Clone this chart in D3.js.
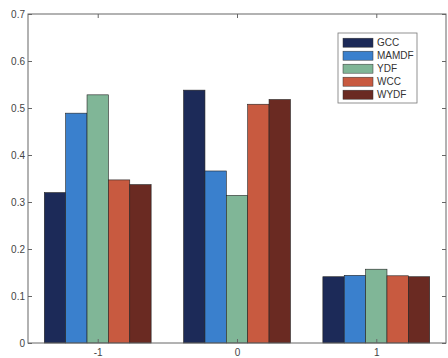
<!DOCTYPE html>
<html>
<head>
<meta charset="utf-8">
<script src="https://cdn.jsdelivr.net/npm/d3@7"></script>
<style>
  html, body { margin: 0; padding: 0; background: #fff; }
  svg { display: block; font-family: "Liberation Sans", Arial, sans-serif; }
</style>
</head>
<body>
<svg id="chart" width="448" height="358"></svg>
<script>
// Categories on the x axis
const categories = ["-1", "0", "1"];
// Methods (series) and their bar colours
const methods = ["GCC", "MAMDF", "YDF", "WCC", "WYDF"];
const colors = ["#1c2a58", "#3a80cd", "#80b697", "#c85a40", "#6a2a22"];
// Series values, one per category
const GCC   = [0.320, 0.538, 0.141];
const MAMDF = [0.489, 0.366, 0.144];
const YDF   = [0.528, 0.314, 0.157];
const WCC   = [0.347, 0.508, 0.143];
const WYDF  = [0.337, 0.518, 0.141];
const yTicks = [0, 0.1, 0.2, 0.3, 0.4, 0.5, 0.6, 0.7];

const seriesValues = [GCC, MAMDF, YDF, WCC, WYDF];

const svg = d3.select("#chart");
const plot = { left: 28, right: 446, top: 14, bottom: 343 };

const x = d3.scaleBand().domain(categories).range([plot.left, plot.right]).paddingInner(0.233).paddingOuter(0.117);
const xs = d3.scaleBand().domain(methods).range([0, x.bandwidth()]);
const y = d3.scaleLinear().domain([0, 0.7]).range([plot.bottom, plot.top]);

// Bars
const rows = categories.map((c, i) => ({ c, vals: methods.map((m, j) => ({ m, j, v: seriesValues[j][i] })) }));
const g = svg.append("g");
g.selectAll("g.grp").data(rows).join("g")
  .attr("class", "grp")
  .attr("transform", d => `translate(${x(d.c)},0)`)
  .selectAll("rect").data(d => d.vals).join("rect")
  .attr("x", d => xs(d.m))
  .attr("width", xs.bandwidth())
  .attr("y", d => y(d.v))
  .attr("height", d => y(0) - y(d.v))
  .attr("fill", d => colors[d.j])
  .attr("stroke", "#222")
  .attr("stroke-width", 0.6);

// Axes: box with inward ticks on all sides
const axisColor = "#666";
const tickPos = d3.scalePoint().domain(categories).range([x("-1") + x.bandwidth() / 2, x("1") + x.bandwidth() / 2]);

const yAxis = svg.append("g").attr("transform", `translate(${plot.left},0)`)
  .call(d3.axisLeft(y).tickValues(yTicks).tickSize(-4).tickPadding(3).tickFormat(d => d === 0 ? "0" : d3.format(".1f")(d)));
const yAxisR = svg.append("g").attr("transform", `translate(${plot.right},0)`)
  .call(d3.axisRight(y).tickValues(yTicks).tickSize(-4).tickFormat(""));
const xAxis = svg.append("g").attr("transform", `translate(0,${plot.bottom})`)
  .call(d3.axisBottom(tickPos).tickSize(-4).tickPadding(6));
const xAxisT = svg.append("g").attr("transform", `translate(0,${plot.top})`)
  .call(d3.axisTop(tickPos).tickSize(-4).tickFormat(""));

[yAxis, yAxisR, xAxis, xAxisT].forEach(a => {
  a.select(".domain").remove();
  a.selectAll(".tick line").attr("stroke", axisColor);
  a.selectAll("text").attr("font-size", 10).attr("fill", "#444")
    .attr("font-family", "Liberation Sans, Arial, sans-serif");
});
svg.append("rect")
  .attr("x", plot.left).attr("y", plot.top)
  .attr("width", plot.right - plot.left).attr("height", plot.bottom - plot.top)
  .attr("fill", "none").attr("stroke", axisColor).attr("stroke-width", 1);

// Legend
const lg = svg.append("g").attr("transform", "translate(338,33)");
lg.append("rect").attr("width", 79).attr("height", 70)
  .attr("fill", "#fff").attr("stroke", "#777").attr("stroke-width", 0.8);
const items = lg.selectAll("g.item").data(methods).join("g")
  .attr("class", "item")
  .attr("transform", (d, i) => `translate(5,${9.7 + i * 13})`);
items.append("rect").attr("x", 0).attr("y", -4.5).attr("width", 30).attr("height", 9)
  .attr("fill", (d, i) => colors[i]).attr("stroke", "#333").attr("stroke-width", 0.5);
items.append("text").attr("x", 34).attr("y", 3.5).attr("font-size", 10).attr("fill", "#333")
  .text(d => d);
</script>
</body>
</html>
